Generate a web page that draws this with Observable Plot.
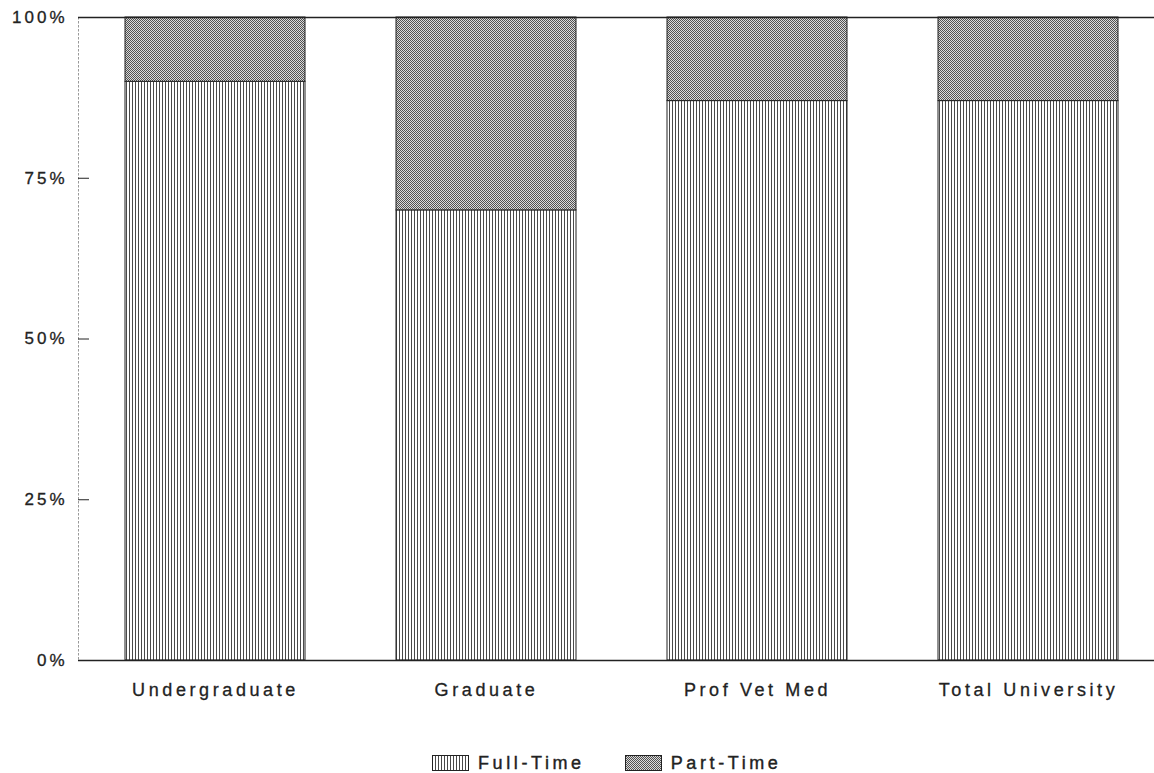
<!DOCTYPE html>
<html>
<head>
<meta charset="utf-8">
<script src="https://cdn.jsdelivr.net/npm/d3@7"></script>
<script src="https://cdn.jsdelivr.net/npm/@observablehq/plot@0.6"></script>
<style>
  body { margin: 0; background: #fff; font-family: 'Liberation Sans', Arial, sans-serif; color: #222; }
  #chart svg text { letter-spacing: 3px; stroke: #222; stroke-width: 0.3px; }
  #chart svg g[aria-label="x-axis tick label"] text { letter-spacing: 3.6px; }
  #legend { display: flex; align-items: center; margin-top: 35px; margin-left: 432px; height: 16px; }
  #legend .item { display: flex; align-items: center; margin-right: 40px; }
  #legend .lab { font-size: 18px; letter-spacing: 3.6px; margin-left: 9px; color: #222; -webkit-text-stroke: 0.4px #222; }
</style>
</head>
<body>
<div id="chart"></div>
<div id="legend"></div>
<script>
const categories = ["Undergraduate", "Graduate", "Prof Vet Med", "Total University"];
const fullTime = [90, 70, 87, 87];
const partTime = [10, 30, 13, 13];
const yTicks = [0, 25, 50, 75, 100];
const seriesNames = ["Full-Time", "Part-Time"];

const rows = categories.map((c, i) => ({category: c, full: fullTime[i], part: partTime[i], top: fullTime[i] + partTime[i]}));

const patterns = `
<pattern id="pFull" patternUnits="userSpaceOnUse" width="3" height="3">
  <rect width="3" height="3" fill="#fff"/><rect x="0" width="1" height="3" fill="#4a4a4a"/>
</pattern>
<pattern id="pPart" patternUnits="userSpaceOnUse" width="2" height="2">
  <rect width="2" height="2" fill="#dadada"/><rect width="1" height="1" fill="#505050"/><rect x="1" y="1" width="1" height="1" fill="#505050"/>
</pattern>`;

const chart = Plot.plot({
  width: 1154,
  height: 720,
  marginLeft: 78,
  marginRight: 0,
  marginTop: 17,
  marginBottom: 60,
  x: {domain: categories, paddingInner: 0.334, paddingOuter: 0.147, align: 0.565, label: null},
  y: {domain: [0, 100], label: null},
  style: {fontFamily: "'Liberation Sans', Arial, sans-serif", color: "#222", background: "#fff", overflow: "visible"},
  marks: [
    Plot.barY(rows, {x: "category", y1: 0, y2: "full", fill: "url(#pFull)", stroke: "#222", strokeWidth: 1}),
    Plot.barY(rows, {x: "category", y1: "full", y2: "top", fill: "url(#pPart)", stroke: "#222", strokeWidth: 1}),
    Plot.frame({anchor: "left", stroke: "#999", strokeDasharray: "1.5,2.5"}),
    Plot.ruleY([0, 100], {stroke: "#222", strokeWidth: 1.5}),
    Plot.axisY({ticks: yTicks, tickSize: 0, tickPadding: 11, tickFormat: d => d + "%", fontSize: 17, label: null}),
    Plot.axisY({ticks: [25, 50, 75], tickSize: -11, tickFormat: () => "", label: null, stroke: "#222"}),
    Plot.axisX({tickSize: 0, tickPadding: 23, fontSize: 18, label: null})
  ]
});
d3.select(chart).insert("defs", ":first-child").html(patterns);
document.getElementById("chart").appendChild(chart);

const legend = d3.select("#legend");
const fills = ["url(#pFull)", "url(#pPart)"];
seriesNames.forEach((name, i) => {
  const item = legend.append("div").attr("class", "item");
  const sw = item.append("svg").attr("width", 37).attr("height", 16);
  sw.append("rect").attr("x", 0.5).attr("y", 0.5).attr("width", 36).attr("height", 15)
    .attr("fill", fills[i]).attr("stroke", "#222");
  item.append("span").attr("class", "lab").text(name);
});
</script>
</body>
</html>
